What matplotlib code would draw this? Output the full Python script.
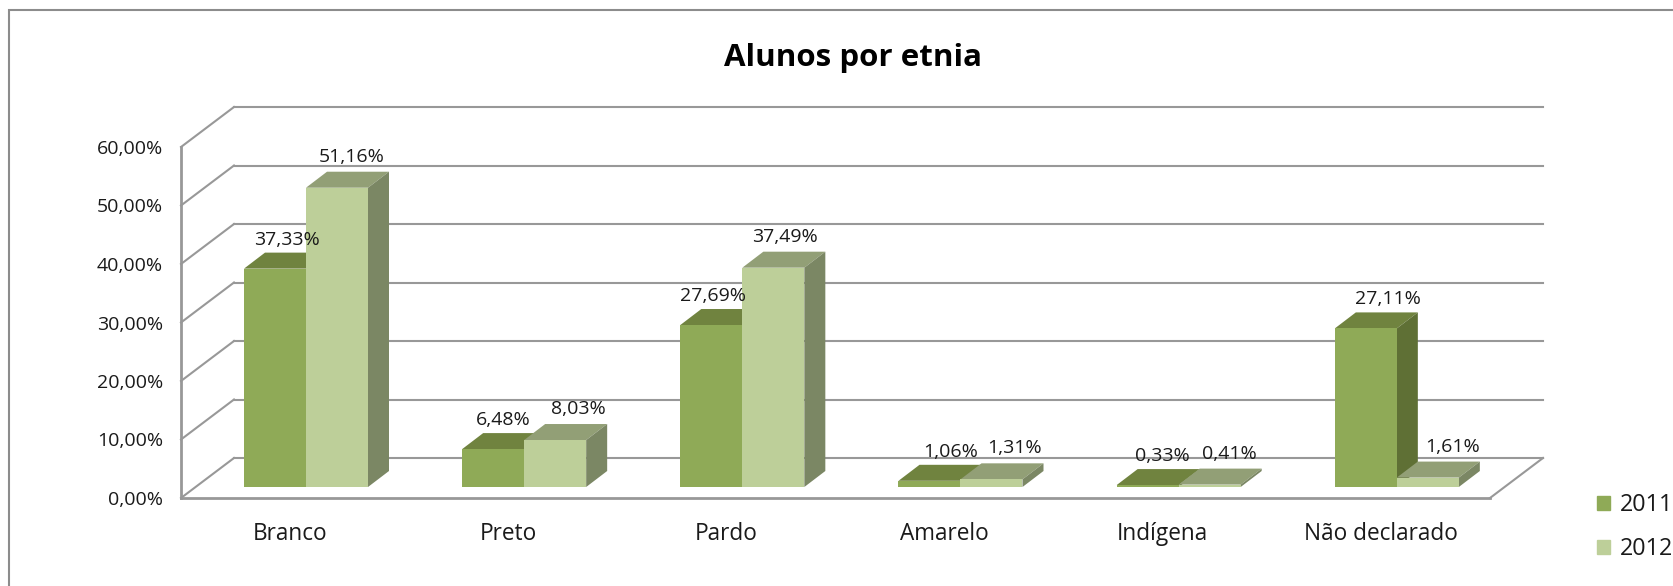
import matplotlib
matplotlib.use('Agg')
import matplotlib.pyplot as plt
from matplotlib.patches import Patch, Rectangle

plt.rcParams['font.family'] = ['Open Sans', 'DejaVu Sans']

categories = ['Branco', 'Preto', 'Pardo', 'Amarelo', 'Indígena', 'Não declarado']
values_2011 = [37.33, 6.48, 27.69, 1.06, 0.33, 27.11]
values_2012 = [51.16, 8.03, 37.49, 1.31, 0.41, 1.61]
yticks = [0, 10, 20, 30, 40, 50, 60]

# label offsets from bar centre, in pixels (as placed in the original)
label_dx_2011 = [12, 10, 2, 21, 15, 22]
label_dx_2012 = [15, 23, 12, 23, 20, 25]

W, H = 1674, 586
fig = plt.figure(figsize=(W / 100, H / 100), dpi=100)
ax = fig.add_axes([181 / W, 1 - 498 / H, (1490 - 181) / W, (498 - 147) / H])
ax.set_xlim(0, 6)
ax.set_ylim(0, 60)

px_x = (1490 - 181) / 6.0
px_y = (498 - 147) / 60.0

# depth of the fake 3d box in data units
depth_x = 53 / px_x
depth_y = 40 / px_y
bar_dx = 21 / px_x
bar_dy = 16 / px_y
bar_w = 62.0 / px_x
x_start = (244 - 181) / px_x
y_start = (498 - 487) / px_y

grid_color = '#989898'
for t in yticks:
    ax.plot([0, depth_x], [t, t + depth_y], color=grid_color, lw=1.5, clip_on=False, zorder=1)
    ax.plot([depth_x, 6 + depth_x], [t + depth_y, t + depth_y], color=grid_color, lw=1.5, clip_on=False, zorder=1)
ax.plot([0, 0], [0, 60], color=grid_color, lw=2, clip_on=False, zorder=1)
ax.plot([0, 6], [0, 0], color=grid_color, lw=2, clip_on=False, zorder=1)
ax.plot([6, 6 + depth_x], [0, depth_y], color=grid_color, lw=1.5, clip_on=False, zorder=1)


def draw_bar(x, v, front, top, side, z):
    ax.bar(x, v, bar_w, bottom=y_start, align='edge', color=front, clip_on=False, zorder=z + 0.2)
    y1 = y_start + v
    ax.fill([x, x + bar_w, x + bar_w + bar_dx, x + bar_dx],
            [y1, y1, y1 + bar_dy, y1 + bar_dy], color=top, lw=0, clip_on=False, zorder=z)
    ax.fill([x + bar_w, x + bar_w + bar_dx, x + bar_w + bar_dx, x + bar_w],
            [y_start, y_start + bar_dy, y1 + bar_dy, y1], color=side, lw=0, clip_on=False, zorder=z + 0.1)


for i in range(len(categories)):
    x1 = i + x_start
    x2 = x1 + bar_w
    draw_bar(x1, values_2011[i], '#8faa57', '#70833f', '#5f7035', 2)
    draw_bar(x2, values_2012[i], '#bdcf99', '#929f76', '#7b8764', 3)
    ax.annotate(('%.2f%%' % values_2011[i]).replace('.', ','),
                (x1 + bar_w / 2, y_start + values_2011[i]),
                xytext=(label_dx_2011[i] * 0.72, 29 * 0.72), textcoords='offset points',
                ha='center', va='center', fontsize=14, color='#1a1a1a', zorder=10)
    ax.annotate(('%.2f%%' % values_2012[i]).replace('.', ','),
                (x2 + bar_w / 2, y_start + values_2012[i]),
                xytext=(label_dx_2012[i] * 0.72, 31 * 0.72), textcoords='offset points',
                ha='center', va='center', fontsize=14, color='#1a1a1a', zorder=10)

ax.set_xticks([i + 0.5 for i in range(len(categories))])
ax.set_xticklabels(categories, fontsize=16.3, color='#1a1a1a')
ax.set_yticks(yticks)
ax.set_yticklabels([('%.2f%%' % t).replace('.', ',') for t in yticks], fontsize=14, color='#1a1a1a')
ax.tick_params(axis='x', length=0, pad=17)
ax.tick_params(axis='y', length=0, pad=13)
for s in ax.spines.values():
    s.set_visible(False)
ax.patch.set_visible(False)

fig.text(853 / W, 1 - 58 / H, 'Alunos por etnia', fontsize=22.5, fontweight='bold',
         ha='center', va='center', color='black')

handles = [Patch(color='#8faa57', label='2011'), Patch(color='#bdcf99', label='2012')]
fig.legend(handles=handles, loc='center left', bbox_to_anchor=(1576 / W, 1 - 527 / H), frameon=False,
           fontsize=16.8, handlelength=0.55, handleheight=0.55, handletextpad=0.42, labelspacing=0.85,
           labelcolor='#1a1a1a')

# outer chart border, runs off the image on the right and bottom
fig.add_artist(Rectangle((9 / W, -0.05), 1.1, 1 - 10 / H + 0.05, transform=fig.transFigure,
                         fill=False, edgecolor='#8c8c8c', lw=1.5))

fig.savefig('out.png', dpi=100)
